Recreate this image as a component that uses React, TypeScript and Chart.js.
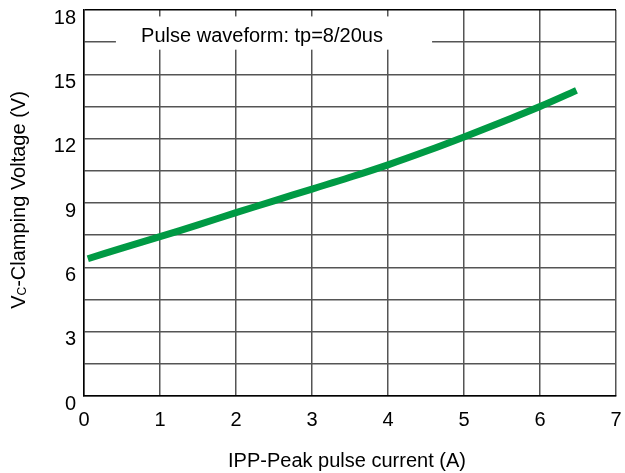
import React, { useEffect, useRef } from "react";
import { Chart, registerables } from "chart.js";

Chart.register(...registerables);

const currentA = [0.05, 0.5, 1, 1.5, 2, 2.5, 3, 3.5, 4, 4.5, 5, 5.5, 6, 6.48];
const clampV = [6.4, 6.9, 7.43, 7.98, 8.55, 9.1, 9.65, 10.2, 10.78, 11.41, 12.08, 12.78, 13.5, 14.25];
const xTicks = [0, 1, 2, 3, 4, 5, 6, 7];
const yLabelTicks = [0, 3, 6, 9, 12, 15, 18];
const legendText = "Pulse waveform: tp=8/20us";
const xTitle = "IPP-Peak pulse current (A)";
const yTitleMain = "V";
const yTitleSub = "C";
const yTitleRest = "-Clamping Voltage (V)";

const FONT = "'Liberation Sans', Arial, sans-serif";

export default function App() {
  const ref = useRef<HTMLCanvasElement | null>(null);

  useEffect(() => {
    document.body.style.margin = "0";
    const canvas = ref.current!;
    const overlay = {
      id: "overlay",
      beforeDatasetsDraw(chart: any) {
        const ctx = chart.ctx;
        const xs = chart.scales.x;
        const ys = chart.scales.y;
        // legend box
        const left = xs.getPixelForValue(0.42);
        const right = xs.getPixelForValue(4.58);
        const top = ys.getPixelForValue(17.7);
        const bottom = ys.getPixelForValue(16.15);
        ctx.save();
        ctx.fillStyle = "#fff";
        ctx.fillRect(left, top, right - left, bottom - top);
        ctx.fillStyle = "#000";
        ctx.font = `20px ${FONT}`;
        ctx.textAlign = "center";
        ctx.textBaseline = "middle";
        ctx.fillText(legendText, (left + right) / 2 - 12, (top + bottom) / 2 + 3);
        ctx.restore();
      },
      afterDraw(chart: any) {
        const ctx = chart.ctx;
        const ca = chart.chartArea;
        ctx.save();
        ctx.fillStyle = "#000";
        ctx.font = `20px ${FONT}`;
        ctx.textAlign = "center";
        ctx.textBaseline = "middle";
        ctx.fillText(xTitle, (ca.left + ca.right) / 2 - 3, 461);
        // y title rotated
        ctx.translate(18, (ca.top + ca.bottom) / 2 - 3);
        ctx.rotate(-Math.PI / 2);
        ctx.textAlign = "left";
        ctx.textBaseline = "alphabetic";
        const mainFont = `20px ${FONT}`;
        const subFont = `12px ${FONT}`;
        ctx.font = mainFont;
        const w1 = ctx.measureText(yTitleMain).width;
        const w3 = ctx.measureText(yTitleRest).width;
        ctx.font = subFont;
        const w2 = ctx.measureText(yTitleSub).width;
        const total = w1 + w2 + w3;
        let x = -total / 2;
        const base = 7;
        ctx.font = mainFont;
        ctx.fillText(yTitleMain, x, base);
        x += w1;
        ctx.font = subFont;
        ctx.fillText(yTitleSub, x, base + 1);
        x += w2;
        ctx.font = mainFont;
        ctx.fillText(yTitleRest, x, base);
        ctx.restore();
      },
    };

    const chart = new Chart(canvas, {
      type: "line",
      data: {
        datasets: [
          {
            data: currentA.map((x, i) => ({ x, y: clampV[i] })),
            borderColor: "rgb(0,154,68)",
            borderWidth: 7,
            pointRadius: 0,
            tension: 0.4,
            fill: false,
            borderCapStyle: "butt",
          },
        ],
      },
      options: {
        animation: false,
        responsive: true,
        maintainAspectRatio: false,
        layout: { padding: { top: 10, right: 9, left: 0, bottom: 0 } },
        plugins: { legend: { display: false }, tooltip: { enabled: false } },
        scales: {
          x: {
            type: "linear",
            min: 0,
            max: 7,
            afterFit(scale: any) {
              scale.height = 77;
              scale.paddingLeft = 0;
              scale.paddingRight = 0;
            },
            afterBuildTicks(scale: any) {
              scale.ticks = xTicks.map((v) => ({ value: v }));
            },
            ticks: {
              color: "#000",
              font: { family: FONT, size: 20 },
              padding: 12,
              maxRotation: 0,
              autoSkip: false,
            },
            grid: { color: "#555", lineWidth: 1.5, drawTicks: false },
            border: { color: "#000", width: 1.5 },
          },
          y: {
            type: "linear",
            min: 0,
            max: 18,
            afterFit(scale: any) {
              scale.width = 84;
              scale.paddingTop = 0;
              scale.paddingBottom = 0;
            },
            ticks: {
              stepSize: 1.5,
              color: "#000",
              font: { family: FONT, size: 20 },
              padding: 8,
              labelOffset: 8,
              autoSkip: false,
              callback: (v: any) => (yLabelTicks.includes(Number(v)) ? String(v) : ""),
            },
            grid: {
              color: (c: any) => (c.tick && c.tick.value === 18 ? "#000" : "#555"),
              lineWidth: 1.5,
              drawTicks: false,
            },
            border: { color: "#000", width: 1.5 },
          },
        },
      },
      plugins: [overlay],
    } as any);
    return () => chart.destroy();
  }, []);

  return (
    <div style={{ width: 625, height: 473, position: "relative" }}>
      <canvas ref={ref} />
    </div>
  );
}
